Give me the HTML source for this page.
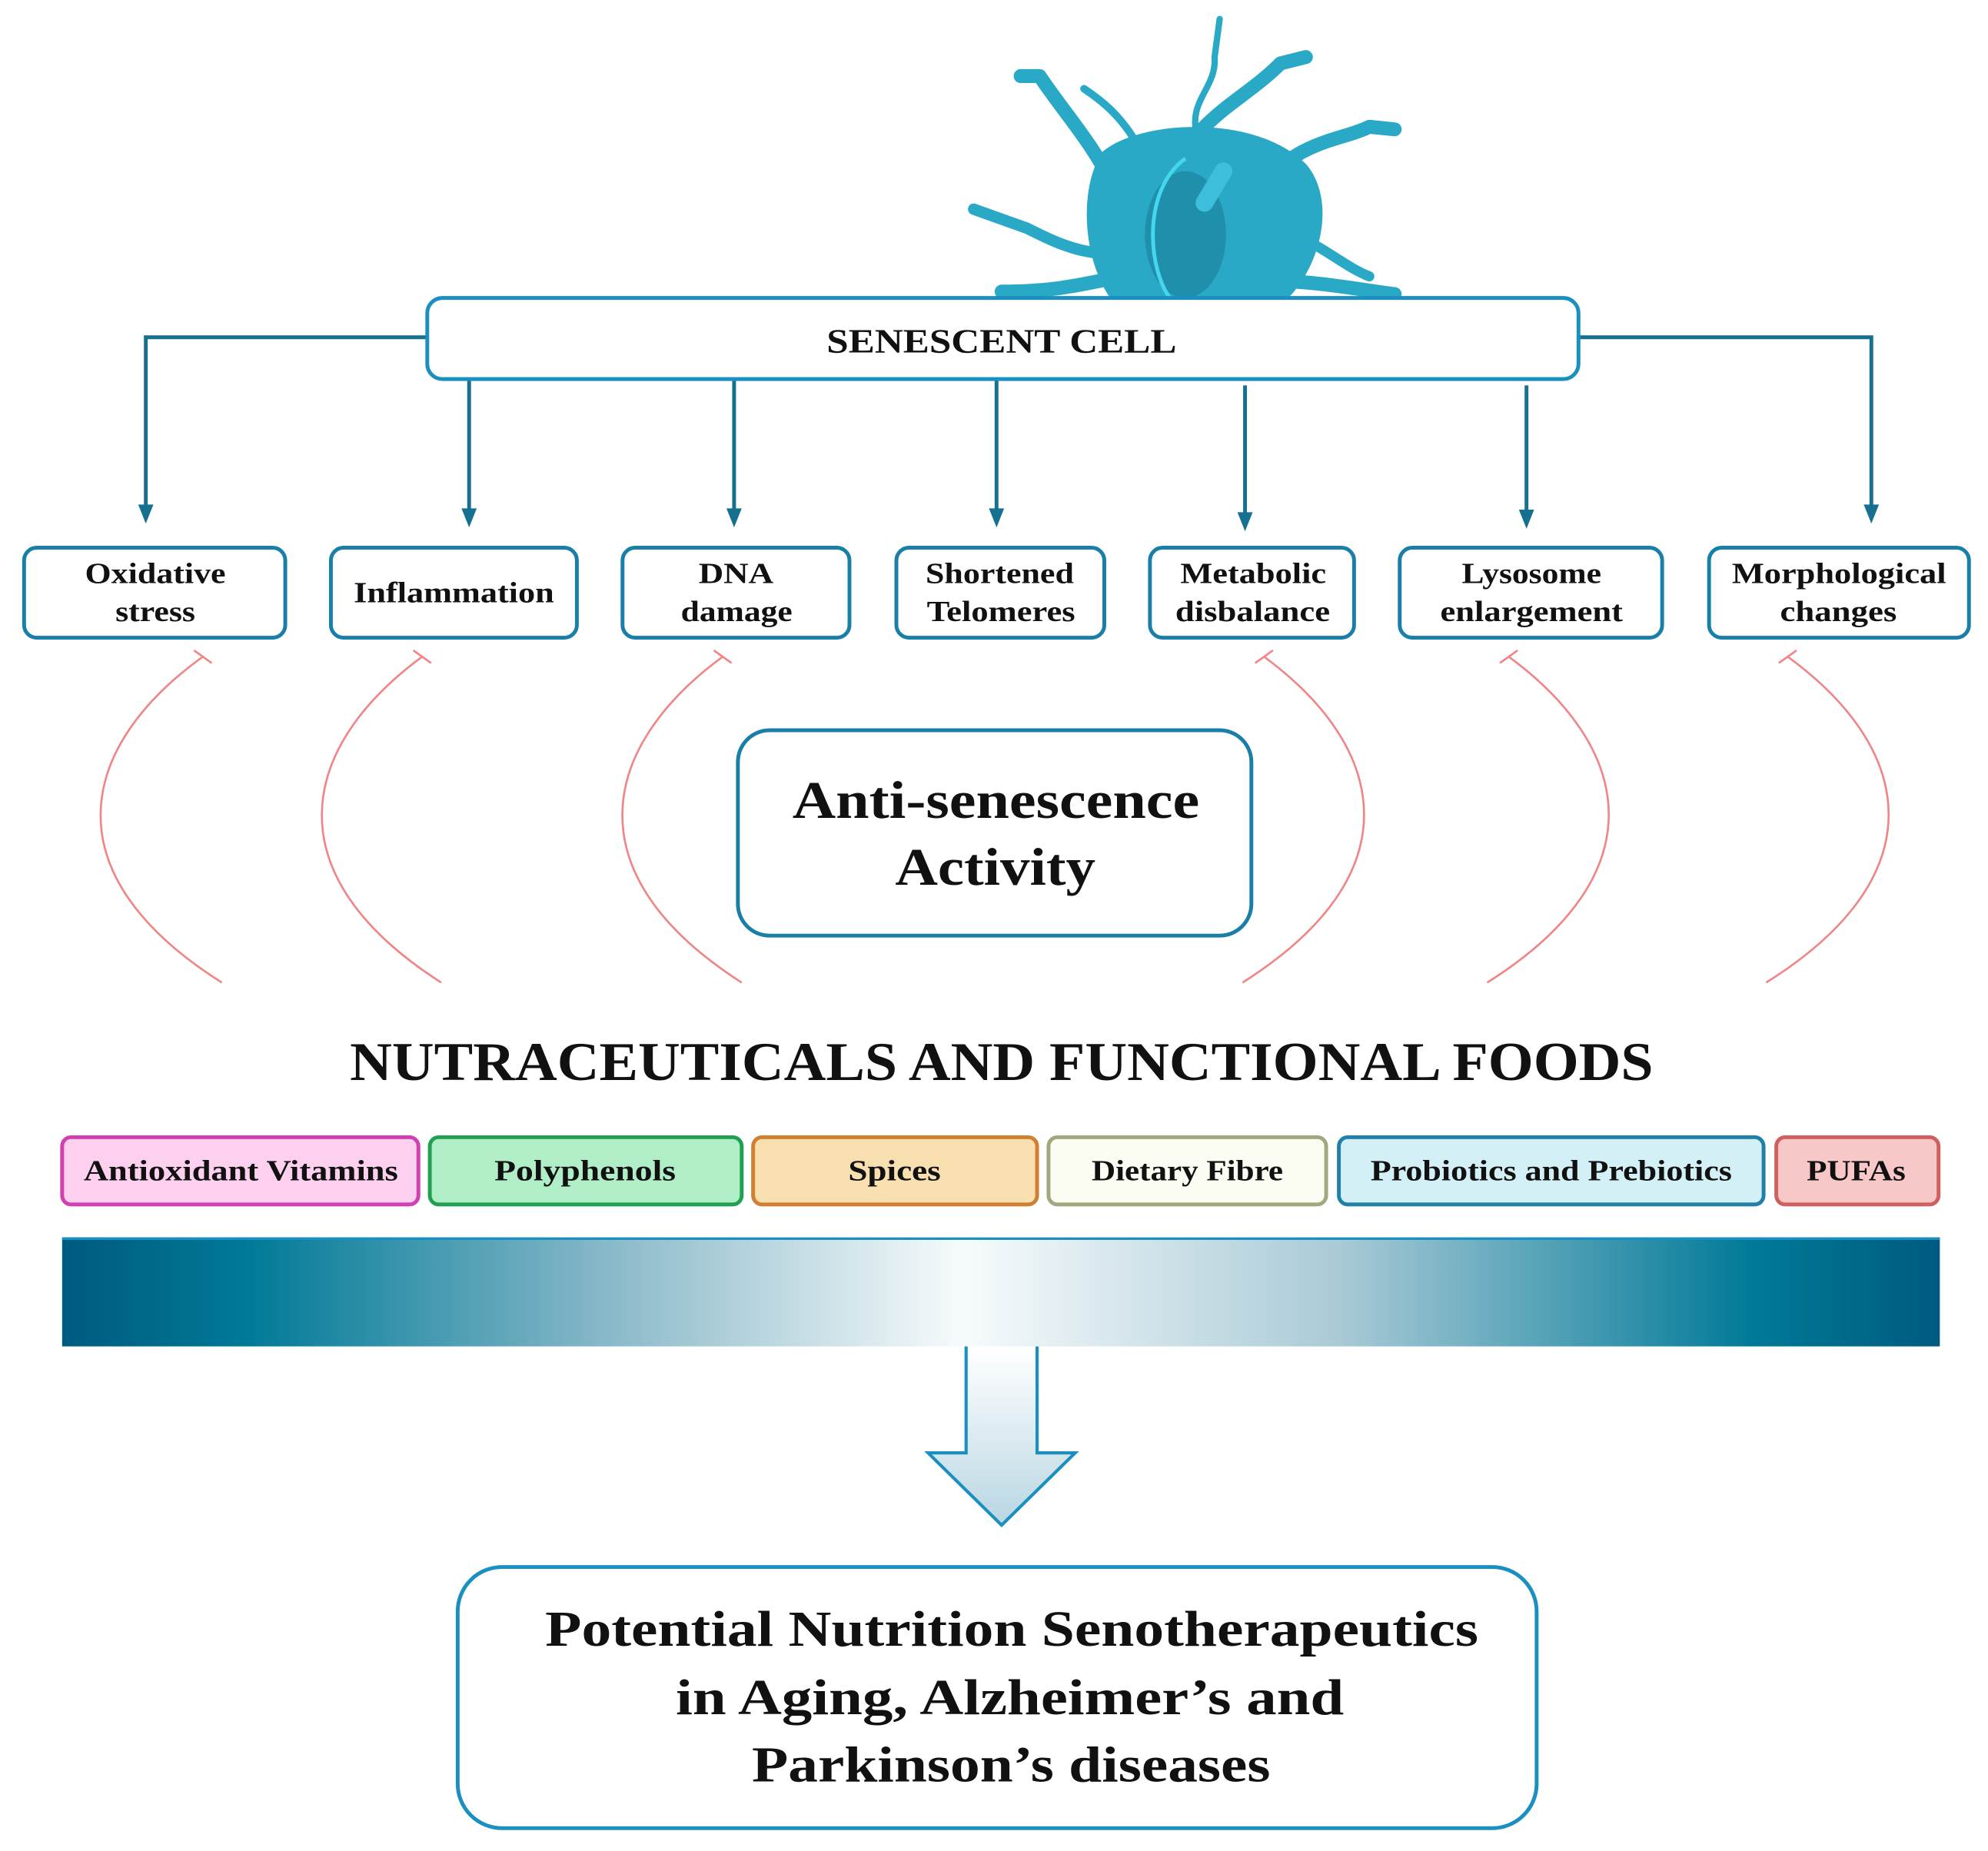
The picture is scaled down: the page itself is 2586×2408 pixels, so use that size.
<!DOCTYPE html>
<html><head><meta charset="utf-8"><style>
html,body{margin:0;padding:0;background:#fff;}
svg{display:block;}
text{font-family:"Liberation Serif",serif;font-weight:bold;fill:#111;}
</style></head><body>
<svg width="2586" height="2408" viewBox="0 0 1568 1460" preserveAspectRatio="none" xmlns="http://www.w3.org/2000/svg">
<defs>
<linearGradient id="bar" x1="0" x2="1" y1="0" y2="0">
<stop offset="0" stop-color="#005a80"/><stop offset="0.1" stop-color="#007a98"/>
<stop offset="0.3" stop-color="#8fbccb"/><stop offset="0.48" stop-color="#f7fbfc"/>
<stop offset="0.68" stop-color="#a9cad6"/><stop offset="0.9" stop-color="#007a98"/><stop offset="1" stop-color="#005a80"/>
</linearGradient>
<linearGradient id="arr" x1="0" x2="0" y1="0" y2="1">
<stop offset="0" stop-color="#ffffff"/><stop offset="1" stop-color="#b8d6e2"/>
</linearGradient>
</defs>
<!-- cell -->
<g fill="#2aa9c6" stroke="#2aa9c6" stroke-linecap="round" stroke-linejoin="round">
<g fill="none" stroke-width="11">
<path d="M880,150 C860,110 840,90 820,60 L805,60"/>
<path d="M905,130 C890,95 870,80 855,70" stroke-width="6"/>
<path d="M945,110 C935,80 960,70 958,45 L962,15" stroke-width="5"/>
<path d="M950,100 C970,80 990,70 1010,50 L1030,45"/>
<path d="M1000,140 C1030,110 1060,110 1080,100 L1100,102"/>
<path d="M1020,185 C1045,195 1060,210 1080,218" stroke-width="8"/>
<path d="M875,200 C850,200 830,190 810,180 L768,165" stroke-width="9"/>
<path d="M875,220 C850,225 830,230 790,230"/>
<path d="M1020,222 C1050,224 1070,228 1100,232"/>
</g>
<path d="M870,120 C900,95 990,90 1030,130 C1055,160 1040,215 1010,240 L880,240 C855,210 850,150 870,120 Z"/>
</g>
<ellipse cx="935" cy="185" rx="32" ry="50" fill="#1f8fab"/>
<path d="M935,125 C900,150 905,215 925,238" fill="none" stroke="#45d6ef" stroke-width="3"/>
<path d="M950,160 L965,135" stroke="#3dbfdc" stroke-width="14" stroke-linecap="round"/>
<rect x="760" y="236" width="350" height="10" fill="#fff"/>
<!-- connectors -->
<g stroke="#16708f" stroke-width="3" fill="none">
<path d="M337,266 H115 V402"/>
<path d="M1245,266 H1476 V402"/>
<path d="M370,300 V405"/><path d="M579,300 V405"/><path d="M786,300 V405"/>
<path d="M982,304 V408"/><path d="M1204,304 V406"/>
</g>
<g fill="#16708f">
<path d="M109,398 L121,398 L115,413 Z"/>
<path d="M1470,398 L1482,398 L1476,413 Z"/>
<path d="M364,401 L376,401 L370,416 Z"/>
<path d="M573,401 L585,401 L579,416 Z"/>
<path d="M780,401 L792,401 L786,416 Z"/>
<path d="M976,404 L988,404 L982,419 Z"/>
<path d="M1198,402 L1210,402 L1204,417 Z"/>
</g>
<rect x="337" y="235" width="908" height="64" rx="12" fill="#fff" stroke="#1a8fc0" stroke-width="3"/>
<text x="652" y="278" font-size="27" textLength="276" lengthAdjust="spacingAndGlyphs">SENESCENT CELL</text>
<!-- boxes -->
<g fill="#fff" stroke="#1a7fa8" stroke-width="3">
<rect x="19" y="432" width="206" height="71" rx="10"/>
<rect x="261" y="432" width="194" height="71" rx="10"/>
<rect x="491" y="432" width="179" height="71" rx="10"/>
<rect x="707" y="432" width="164" height="71" rx="10"/>
<rect x="907" y="432" width="161" height="71" rx="10"/>
<rect x="1104" y="432" width="207" height="71" rx="10"/>
<rect x="1348" y="432" width="205" height="71" rx="10"/>
</g>
<g font-size="23" lengthAdjust="spacingAndGlyphs">
<text x="67" y="460" textLength="111" lengthAdjust="spacingAndGlyphs">Oxidative</text><text x="91" y="490" textLength="63" lengthAdjust="spacingAndGlyphs">stress</text>
<text x="279" y="475" textLength="158" lengthAdjust="spacingAndGlyphs">Inflammation</text>
<text x="551" y="460" textLength="59" lengthAdjust="spacingAndGlyphs">DNA</text><text x="537" y="490" textLength="88" lengthAdjust="spacingAndGlyphs">damage</text>
<text x="730" y="460" textLength="117" lengthAdjust="spacingAndGlyphs">Shortened</text><text x="731" y="490" textLength="117" lengthAdjust="spacingAndGlyphs">Telomeres</text>
<text x="931" y="460" textLength="115" lengthAdjust="spacingAndGlyphs">Metabolic</text><text x="927" y="490" textLength="122" lengthAdjust="spacingAndGlyphs">disbalance</text>
<text x="1153" y="460" textLength="110" lengthAdjust="spacingAndGlyphs">Lysosome</text><text x="1136" y="490" textLength="144" lengthAdjust="spacingAndGlyphs">enlargement</text>
<text x="1366" y="460" textLength="169" lengthAdjust="spacingAndGlyphs">Morphological</text><text x="1404" y="490" textLength="92" lengthAdjust="spacingAndGlyphs">changes</text>
</g>
<!-- inhibition curves -->
<g stroke="#f08585" stroke-width="1.6" fill="none">
<path d="M175,775 C40,690 60,590 160,518 M153,513 L167,523"/>
<path d="M348,775 C215,690 235,590 333,518 M326,513 L340,523"/>
<path d="M585,775 C452,690 472,590 570,518 M563,513 L577,523"/>
<path d="M980,775 C1115,690 1095,590 997,518 M990,523 L1004,513"/>
<path d="M1173,775 C1308,690 1288,590 1190,518 M1183,523 L1197,513"/>
<path d="M1393,775 C1529,690 1509,590 1410,518 M1403,523 L1417,513"/>
</g>
<rect x="582" y="576" width="405" height="162" rx="25" fill="#fff" stroke="#1a7fa8" stroke-width="3"/>
<text x="625" y="645" font-size="42" textLength="321" lengthAdjust="spacingAndGlyphs">Anti-senescence</text>
<text x="706" y="698" font-size="42" textLength="158" lengthAdjust="spacingAndGlyphs">Activity</text>
<text x="276" y="852" font-size="43" textLength="1028" lengthAdjust="spacingAndGlyphs">NUTRACEUTICALS AND FUNCTIONAL FOODS</text>
<!-- food boxes -->
<g stroke-width="3">
<rect x="49" y="897" width="281" height="53" rx="7" fill="#fcd0ee" stroke="#d040b0"/>
<rect x="339" y="897" width="246" height="53" rx="7" fill="#b0eec8" stroke="#20a050"/>
<rect x="594" y="897" width="224" height="53" rx="7" fill="#f8dfb0" stroke="#d08030"/>
<rect x="827" y="897" width="219" height="53" rx="7" fill="#fbfdf2" stroke="#a0a880"/>
<rect x="1056" y="897" width="335" height="53" rx="7" fill="#d2f0f6" stroke="#2080a8"/>
<rect x="1401" y="897" width="128" height="53" rx="7" fill="#f8c8c8" stroke="#d06060"/>
</g>
<g font-size="23">
<text x="66" y="931" textLength="248" lengthAdjust="spacingAndGlyphs">Antioxidant Vitamins</text>
<text x="390" y="931" textLength="143" lengthAdjust="spacingAndGlyphs">Polyphenols</text>
<text x="669" y="931" textLength="73" lengthAdjust="spacingAndGlyphs">Spices</text>
<text x="861" y="931" textLength="151" lengthAdjust="spacingAndGlyphs">Dietary Fibre</text>
<text x="1081" y="931" textLength="285" lengthAdjust="spacingAndGlyphs">Probiotics and Prebiotics</text>
<text x="1425" y="931" textLength="78" lengthAdjust="spacingAndGlyphs">PUFAs</text>
</g>
<!-- gradient bar -->
<rect x="49" y="976" width="1481" height="86" fill="url(#bar)"/>
<line x1="49" y1="977" x2="1530" y2="977" stroke="#1a8fc0" stroke-width="2"/>
<path d="M762,1062 V1146 H732 L790,1203 L848,1146 H818 V1062" fill="url(#arr)" stroke="#1a8fc0" stroke-width="2.5"/>
<rect x="361" y="1236" width="851" height="206" rx="35" fill="#fff" stroke="#1a8fc0" stroke-width="3"/>
<g font-size="40">
<text x="430" y="1298" textLength="736" lengthAdjust="spacingAndGlyphs">Potential Nutrition Senotherapeutics</text>
<text x="533" y="1352" textLength="527" lengthAdjust="spacingAndGlyphs">in Aging, Alzheimer’s and</text>
<text x="593" y="1405" textLength="409" lengthAdjust="spacingAndGlyphs">Parkinson’s diseases</text>
</g>
</svg>
</body></html>
